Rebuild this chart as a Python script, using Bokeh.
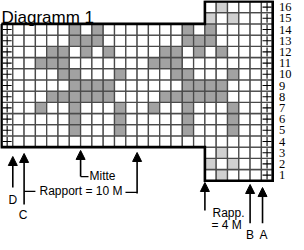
from bokeh.plotting import figure
from bokeh.models import Range1d, Arrow, NormalHead, ColumnDataSource
from bokeh.core.properties import value
from bokeh.embed import file_html
from bokeh.resources import INLINE

# ---------------- data ----------------
title = "Diagramm 1"
row_numbers = list(range(1, 17))
main_rows = list(range(4, 15))        # rows of the wide part of the chart
side_rows = list(range(1, 17))        # rows of the narrow right-hand part
main_cols = 18                        # stitches of the wide part
side_cols = 6                         # stitches of the narrow part
repeat = 10                           # Rapport = 10 M
repeat_start = 2                      # first stitch of the repeat (arrow C)
# dark-grey stitches per row, as offsets inside the 10-stitch repeat
motif = {
    14: [4, 6],
    13: [4, 5, 6],
    12: [2, 3, 5, 7],
    11: [1, 2, 3],
    10: [3, 4, 8],
    9: [4, 5, 6, 7],
    8: [2, 3, 4, 5, 6, 7],
    7: [1, 4, 8],
    6: [4, 8],
    5: [4, 8],
    4: [],
}
# light-grey stitches in the border rows of the narrow part (offset in that part)
border = {16: [1], 15: [0, 2], 3: [1], 2: [0, 2], 1: [1]}

# arrows under the chart: stitch position, tip row level, tail row level
arrow_names = ["D", "C", "Mitte", "Rapport", "Rapp.", "B", "A"]
arrow_stitch = [1.0, 2.0, 7.0, 12.0, 18.0, 22.0, 23.1]
arrow_tip = [2.16, 2.43, 2.70, 2.52, -0.16, -0.34, -0.61]
arrow_tail = [-0.61, -2.13, 0.37, -1.14, -2.66, -3.8, -3.8]

# ---------------- geometry / styles ----------------
PXX, PXY = 11.3, 11.2
W, H = 296, 242
total_cols = main_cols + side_cols
DARK = "#a2a2a2"
LIGHT = "#d0d0d0"
FONT = "Liberation Sans"

x0 = -1.0 / PXX
y1 = 16 + 1.0 / PXY
p = figure(width=W, height=H, output_backend="svg", toolbar_location=None,
           x_range=Range1d(x0, x0 + W / PXX), y_range=Range1d(y1 - H / PXY, y1),
           min_border=0, outline_line_color=None)
p.axis.visible = False
p.grid.visible = False
p.background_fill_color = "white"
p.border_fill_color = "white"

# cells
cx, cy, cc = [], [], []
plus_x, plus_y = [], []
for r in side_rows:
    cols = range(total_cols) if r in main_rows else range(main_cols, total_cols)
    for c in cols:
        color = "white"
        if c in (0, total_cols - 1):
            plus_x.append(c + 0.5)
            plus_y.append(r - 0.5)
        elif r in motif:
            if (c - repeat_start) % repeat in motif[r]:
                color = DARK
        elif r in border:
            if (c - main_cols) in border[r]:
                color = LIGHT
        cx.append(c + 0.5)
        cy.append(r - 0.5)
        cc.append(color)

p.rect(x=cx, y=cy, width=1, height=1, fill_color=cc, line_color="#4a4a4a", line_width=1.3)
p.scatter(x=plus_x, y=plus_y, marker="cross", size=9, line_color="black", line_width=1.1)

# thick outline
top, bot = max(main_rows), min(main_rows) - 1
ox = [0, main_cols, main_cols, total_cols, total_cols, main_cols, main_cols, 0, 0]
oy = [top, top, max(side_rows), max(side_rows), 0, 0, bot, bot, top]
p.line(ox, oy, line_color="black", line_width=2.6, line_join="miter")

# row numbers
p.text(x=[total_cols + 0.55] * len(row_numbers), y=[r - 0.5 for r in row_numbers],
       text=[str(r) for r in row_numbers], text_font=value("Liberation Sans Narrow"),
       text_font_size="12.5px", text_align="left", text_baseline="middle", text_color="black")

# arrows
src = ColumnDataSource(dict(x=arrow_stitch, y0=arrow_tail, y1=arrow_tip))
p.add_layout(Arrow(end=NormalHead(size=9, fill_color="black", line_color="black", line_width=1),
                   x_start="x", y_start="y0", x_end="x", y_end="y1", source=src,
                   line_color="black", line_width=1.6))

# bracket lines
i_c, i_m, i_r = 1, 2, 3
p.segment(x0=[arrow_stitch[i_m], arrow_stitch[i_c], 10.97],
          y0=[arrow_tail[i_m], -0.96, -1.05],
          x1=[arrow_stitch[i_m] + 0.7, 3.0, arrow_stitch[i_r]],
          y1=[arrow_tail[i_m], -0.96, -1.05],
          line_color="black", line_width=1.3)

# labels
p.text(x=[3.36, 7.79, 18.67, 18.58], y=[-0.875, 0.46, -2.84, -3.98],
       text=["Rapport = 10 M", "Mitte", "Rapp.", "= 4 M"],
       text_font=value(FONT), text_font_size="12px", text_align="left",
       text_baseline="alphabetic", text_color="black")
p.text(x=[1.0, 1.9, 22.0, 23.19], y=[-1.72, -3.1, -4.85, -4.85],
       text=["D", "C", "B", "A"],
       text_font=value(FONT), text_font_size="12px", text_align="center",
       text_baseline="alphabetic", text_color="black")

# title
p.text(x=[0.0], y=[14.53], text=[title], text_font=value(FONT), text_font_size="17px",
       text_align="left", text_baseline="alphabetic", text_color="black")

open("out.html", "w").write(file_html(p, INLINE))
